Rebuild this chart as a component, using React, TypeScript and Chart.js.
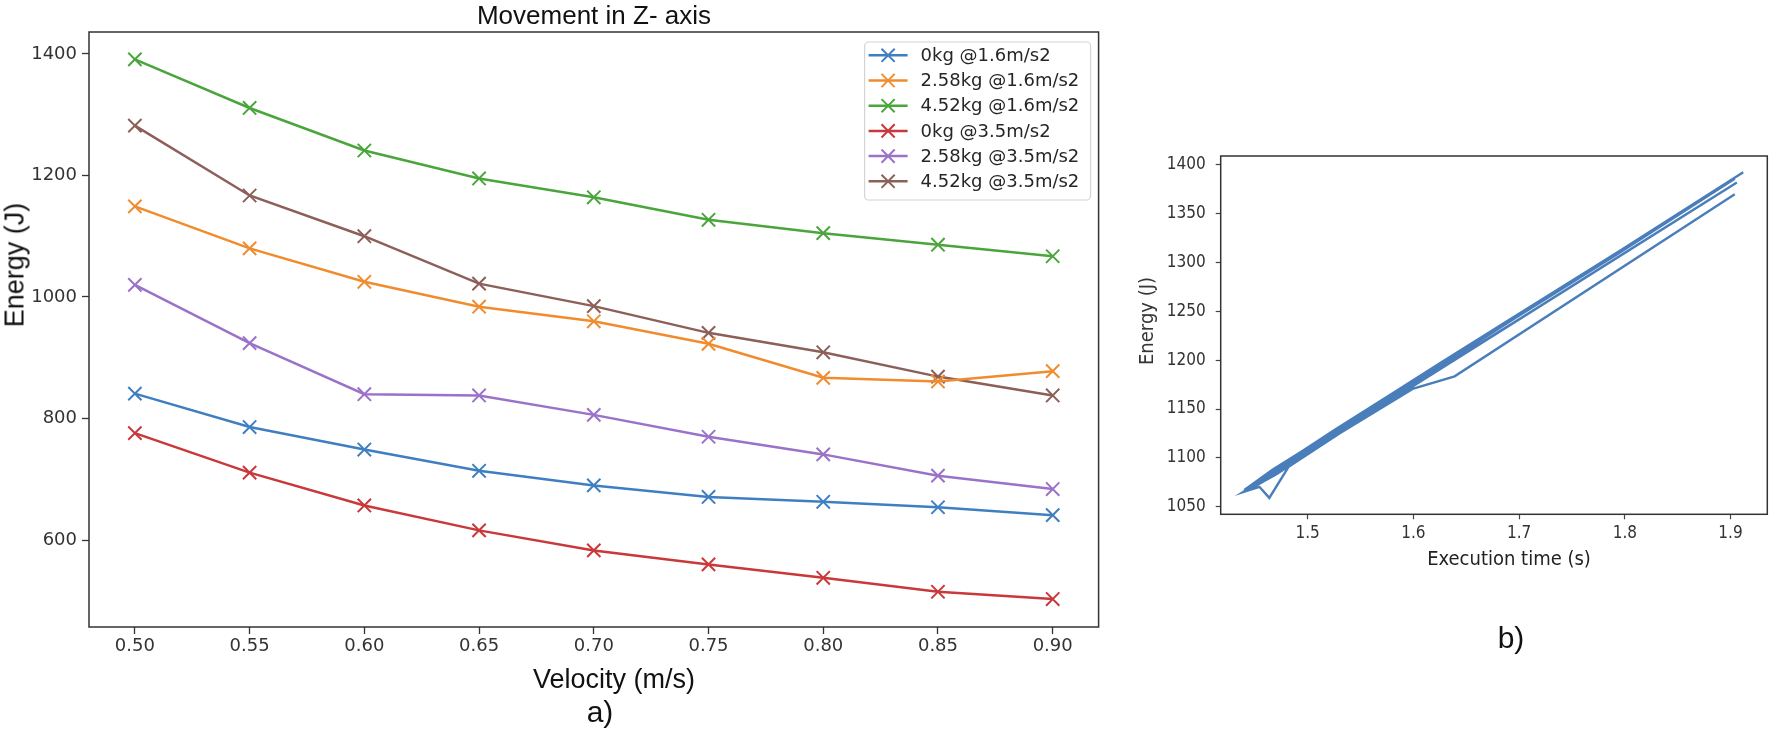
import React, { useEffect, useRef } from 'react';
import { Chart, registerables } from 'chart.js';

Chart.register(...registerables);

// ---- data: a) energy vs velocity ----
const velocities = [0.5, 0.55, 0.6, 0.65, 0.7, 0.75, 0.8, 0.85, 0.9];
const seriesLabels = ['0kg @1.6m/s2', '2.58kg @1.6m/s2', '4.52kg @1.6m/s2', '0kg @3.5m/s2', '2.58kg @3.5m/s2', '4.52kg @3.5m/s2'];
const energy0kgLow = [841, 786, 749, 714, 690, 671, 663, 654, 641];
const energy258kgLow = [1149, 1080, 1025, 984, 960, 923, 867, 861, 878];
const energy452kgLow = [1391, 1311, 1241, 1195, 1164, 1127, 1105, 1086, 1067];
const energy0kgHigh = [776, 711, 657, 616, 583, 560, 538, 515, 503];
const energy258kgHigh = [1020, 924, 840, 838, 806, 770, 741, 706, 684];
const energy452kgHigh = [1282, 1167, 1100, 1022, 985, 941, 909, 869, 838];
const velocityTicks = [0.5, 0.55, 0.6, 0.65, 0.7, 0.75, 0.8, 0.85, 0.9];
const energyTicksA = [600, 800, 1000, 1200, 1400];

// ---- data: b) energy vs execution time (several runs drawn as one path) ----
const execTime = [
  1.904, 1.639, 1.6, 1.53, 1.482, 1.4637, 1.4543, 1.439,
  1.912, 1.795, 1.693, 1.625, 1.58, 1.526, 1.495, 1.467, 1.44,
  1.904, 1.792, 1.69, 1.622, 1.577, 1.523, 1.492, 1.465, 1.442,
  1.906, 1.8, 1.7, 1.63, 1.585, 1.53, 1.5, 1.47, 1.445,
];
const energyB = [
  1370, 1183.5, 1171, 1125, 1091, 1059, 1070.4, 1065,
  1392.5, 1312, 1243, 1197, 1166, 1129, 1107, 1088, 1067,
  1386, 1308, 1239, 1193, 1163, 1126, 1104, 1085, 1066,
  1382, 1310, 1242, 1195, 1165, 1128, 1104, 1083, 1068,
];
const timeTicks = [1.5, 1.6, 1.7, 1.8, 1.9];
const energyTicksB = [1050, 1100, 1150, 1200, 1250, 1300, 1350, 1400];

const seriesValues = [energy0kgLow, energy258kgLow, energy452kgLow, energy0kgHigh, energy258kgHigh, energy452kgHigh];
const seriesColors = ['#3f7fc1', '#f08c2e', '#4aa53c', '#c9383a', '#9a72c9', '#8c6059'];

const framePlugin = {
  id: 'frame',
  afterDraw(chart: any) {
    const { ctx, chartArea } = chart;
    ctx.save();
    ctx.strokeStyle = '#333';
    ctx.lineWidth = 1.5;
    ctx.strokeRect(chartArea.left, chartArea.top, chartArea.right - chartArea.left, chartArea.bottom - chartArea.top);
    ctx.restore();
  },
};

// matplotlib-like framed legend in the upper right of the axes
const boxLegendPlugin = {
  id: 'boxLegend',
  afterDraw(chart: any) {
    const { ctx, chartArea } = chart;
    const w = 226;
    const h = 158;
    const x0 = chartArea.right - 8 - w;
    const y0 = chartArea.top + 10;
    ctx.save();
    ctx.beginPath();
    ctx.roundRect(x0, y0, w, h, 4);
    ctx.fillStyle = 'rgba(255,255,255,0.85)';
    ctx.fill();
    ctx.strokeStyle = '#d4d4d4';
    ctx.lineWidth = 1.2;
    ctx.stroke();
    chart.data.datasets.forEach((ds: any, i: number) => {
      const y = y0 + 13.3 + i * 25.2;
      const cx = x0 + 23.5;
      ctx.strokeStyle = ds.borderColor;
      ctx.lineWidth = 2.5;
      ctx.beginPath();
      ctx.moveTo(x0 + 4, y);
      ctx.lineTo(x0 + 43, y);
      ctx.stroke();
      ctx.lineWidth = 2;
      ctx.beginPath();
      ctx.moveTo(cx - 6.6, y - 6.6);
      ctx.lineTo(cx + 6.6, y + 6.6);
      ctx.moveTo(cx - 6.6, y + 6.6);
      ctx.lineTo(cx + 6.6, y - 6.6);
      ctx.stroke();
      ctx.fillStyle = '#262626';
      ctx.font = "18px 'DejaVu Sans'";
      ctx.textBaseline = 'middle';
      ctx.textAlign = 'left';
      ctx.fillText(ds.label, x0 + 56, y + 1);
    });
    ctx.restore();
  },
};

const VelocityChart = () => {
  const chartRef = useRef<HTMLCanvasElement>(null);
  const chartInstance = useRef<Chart | null>(null);

  useEffect(() => {
    if (!chartRef.current) return;
    if (chartInstance.current) chartInstance.current.destroy();
    const tickFont = { family: "'DejaVu Sans', sans-serif", size: 18 };
    chartInstance.current = new Chart(chartRef.current, {
      type: 'line',
      data: {
        datasets: seriesValues.map((vals, i) => ({
          label: seriesLabels[i],
          data: velocities.map((v, j) => ({ x: v, y: vals[j] })),
          borderColor: seriesColors[i],
          backgroundColor: seriesColors[i],
          borderWidth: 2.5,
          tension: 0,
          pointStyle: 'crossRot',
          pointRadius: 9.4,
          pointBorderWidth: 2,
          pointBorderColor: seriesColors[i],
        })),
      },
      options: {
        responsive: true,
        maintainAspectRatio: false,
        animation: false,
        layout: { padding: { top: 32, right: 5, bottom: 0, left: 0 } },
        plugins: { legend: { display: false }, tooltip: { enabled: false } },
        scales: {
          x: {
            type: 'linear',
            min: 0.48,
            max: 0.92,
            afterFit: (s: any) => { s.height = 104; },
            afterBuildTicks: (s: any) => { s.ticks = velocityTicks.map((v) => ({ value: v })); },
            border: { display: false },
            grid: { drawOnChartArea: false, drawTicks: true, tickLength: 7, tickColor: '#333', tickWidth: 1.3 },
            ticks: { padding: 2, color: '#333', font: tickFont, maxRotation: 0, autoSkip: false, callback: (v: any) => Number(v).toFixed(2) },
          },
          y: {
            min: 457,
            max: 1436,
            afterFit: (s: any) => { s.width = 89; },
            afterBuildTicks: (s: any) => { s.ticks = energyTicksA.map((v) => ({ value: v })); },
            border: { display: false },
            grid: { drawOnChartArea: false, drawTicks: true, tickLength: 7, tickColor: '#333', tickWidth: 1.3 },
            ticks: { padding: 5, color: '#333', font: tickFont, callback: (v: any) => String(v) },
          },
        },
      },
      plugins: [framePlugin, boxLegendPlugin],
    });
    return () => {
      if (chartInstance.current) {
        chartInstance.current.destroy();
        chartInstance.current = null;
      }
    };
  }, []);

  return (
    <div style={{ position: 'absolute', left: 0, top: 0, width: 1110, height: 731 }}>
      <canvas ref={chartRef}></canvas>
    </div>
  );
};

const ExecTimeChart = () => {
  const chartRef = useRef<HTMLCanvasElement>(null);
  const chartInstance = useRef<Chart | null>(null);

  useEffect(() => {
    if (!chartRef.current) return;
    if (chartInstance.current) chartInstance.current.destroy();
    const tickFont = { family: "'DejaVu Sans Condensed', 'DejaVu Sans', sans-serif", size: 17 };
    chartInstance.current = new Chart(chartRef.current, {
      type: 'line',
      data: {
        datasets: [
          {
            label: 'Energy',
            data: execTime.map((t, i) => ({ x: t, y: energyB[i] })),
            borderColor: '#4a7ebb',
            borderWidth: 2.4,
            tension: 0,
            pointRadius: 0,
          },
        ],
      },
      options: {
        responsive: true,
        maintainAspectRatio: false,
        animation: false,
        layout: { padding: { top: 156, right: 4.7, bottom: 0, left: 0 } },
        plugins: { legend: { display: false }, tooltip: { enabled: false } },
        scales: {
          x: {
            type: 'linear',
            min: 1.4177,
            max: 1.9348,
            afterFit: (s: any) => { s.height = 216.7; },
            afterBuildTicks: (s: any) => { s.ticks = timeTicks.map((v) => ({ value: v })); },
            border: { display: false },
            grid: { drawOnChartArea: false, drawTicks: true, tickLength: 5, tickColor: '#444', tickWidth: 1.2 },
            ticks: { padding: 4, color: '#333', font: tickFont, maxRotation: 0, autoSkip: false, callback: (v: any) => Number(v).toFixed(1) },
          },
          y: {
            min: 1042.2,
            max: 1409.2,
            afterFit: (s: any) => { s.width = 110.7; },
            afterBuildTicks: (s: any) => { s.ticks = energyTicksB.map((v) => ({ value: v })); },
            border: { display: false },
            grid: { drawOnChartArea: false, drawTicks: true, tickLength: 5, tickColor: '#444', tickWidth: 1.2 },
            ticks: { padding: 10, color: '#333', font: tickFont, callback: (v: any) => String(v) },
          },
        },
      },
      plugins: [framePlugin],
    });
    return () => {
      if (chartInstance.current) {
        chartInstance.current.destroy();
        chartInstance.current = null;
      }
    };
  }, []);

  return (
    <div style={{ position: 'absolute', left: 1110, top: 0, width: 662, height: 731 }}>
      <canvas ref={chartRef}></canvas>
    </div>
  );
};

const label = (text: string, x: number, y: number, size: number, family: string, rotate = false, color = '#111') => (
  <div
    style={{
      position: 'absolute',
      left: x,
      top: y,
      transform: `translate(-50%, -50%)${rotate ? ' rotate(-90deg)' : ''}`,
      whiteSpace: 'nowrap',
      fontFamily: family,
      fontSize: size,
      lineHeight: 1,
      color,
    }}
  >
    {text}
  </div>
);

const sans = "'Liberation Sans', Arial, sans-serif";
const condensed = "'DejaVu Sans Condensed', 'DejaVu Sans', sans-serif";

export default function App() {
  return (
    <div style={{ position: 'absolute', left: 0, top: 0, width: 1772, height: 731, background: '#fff', overflow: 'hidden' }}>
      <VelocityChart />
      <ExecTimeChart />
      {label('Movement in Z- axis', 594, 15, 26, sans)}
      {label('Energy (J)', 15, 265, 27, sans, true)}
      {label('Velocity (m/s)', 614, 679, 27, sans)}
      {label('a)', 600, 712, 30, sans)}
      {label('Energy (J)', 1146, 321, 20, condensed, true, '#333')}
      {label('Execution time (s)', 1509, 558, 20, condensed, false, '#222')}
      {label('b)', 1511, 638, 30, sans)}
    </div>
  );
}
